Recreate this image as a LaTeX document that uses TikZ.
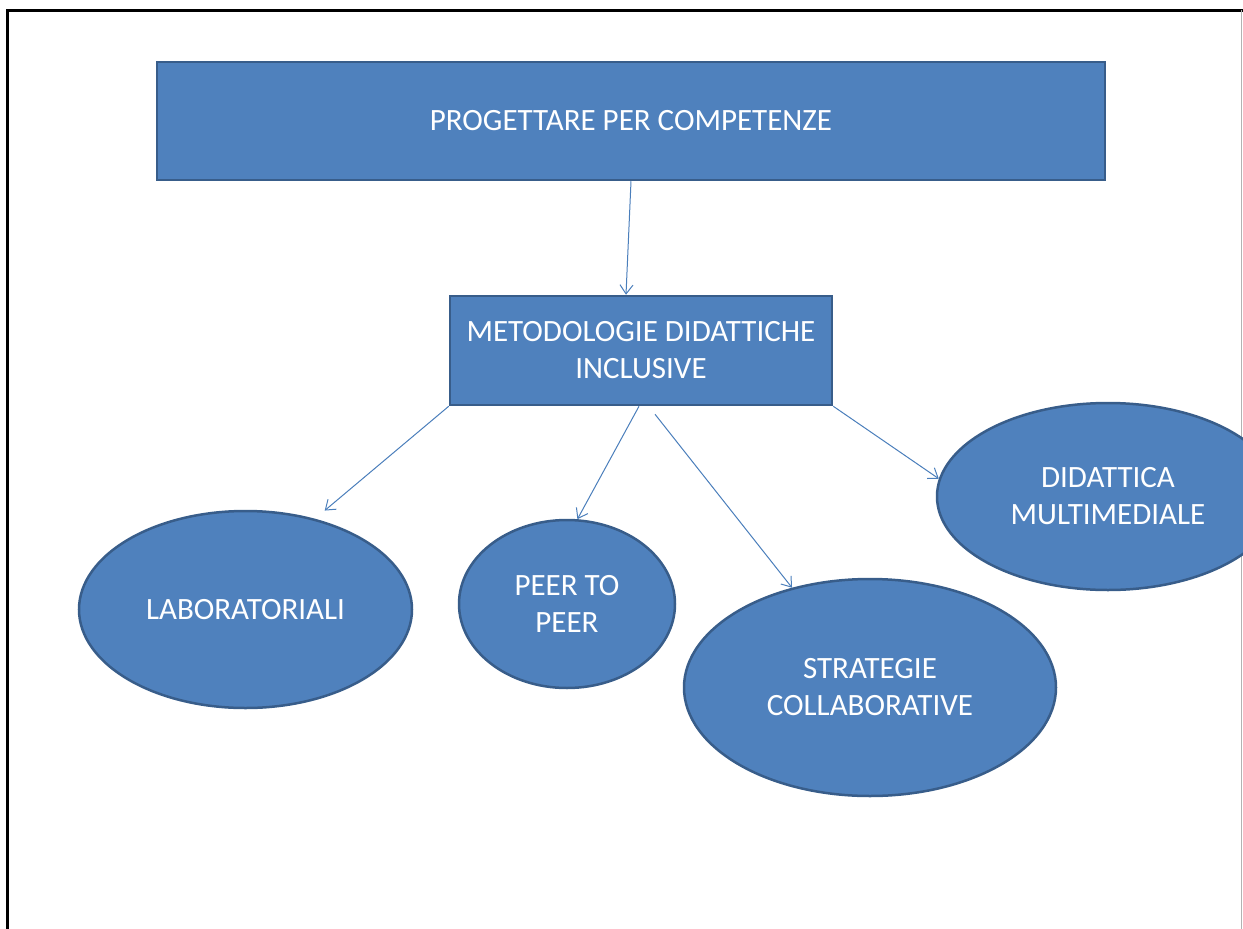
\documentclass[tikz,border=0pt]{standalone}
\usepackage{fontspec}
\setmainfont{Carlito}
\usetikzlibrary{shapes.geometric,arrows.meta}
\definecolor{boxblue}{HTML}{4F81BD}
\definecolor{boxedge}{HTML}{385D8A}
\definecolor{linkblue}{HTML}{4A7EBB}

\begin{document}
\begin{tikzpicture}[x=1pt,y=-1pt,>={Straight Barb[length=9pt,width=13pt]},
  box/.style={rectangle,draw=boxedge,line width=2.5pt,fill=boxblue,text=white,align=center,font=\fontsize{31}{37}\selectfont,inner sep=0pt},
  blob/.style={ellipse,draw=boxedge,line width=2.5pt,fill=boxblue,text=white,align=center,font=\fontsize{31}{37}\selectfont,inner sep=0pt},
  link/.style={draw=linkblue,line width=1pt,->}]
\useasboundingbox (0,0) rectangle (1243,929);
\clip (0,0) rectangle (1243,929);
\draw[line width=3pt] (7.5,929) -- (7.5,10) -- (1243,10);
\draw[gray!60,line width=1pt] (1241,10) -- (1241,929);

\node[box,minimum width=948pt,minimum height=118pt] (plan) at (631,121) {PROGETTARE PER COMPETENZE};
\node[box,minimum width=382pt,minimum height=109pt] (meto) at (641,350.5) {METODOLOGIE DIDATTICHE\\INCLUSIVE};
\node[blob,minimum width=333pt,minimum height=197pt] (lab) at (245.5,609.5) {LABORATORIALI};
\node[blob,minimum width=216pt,minimum height=168pt] (peer) at (567,604) {PEER TO\\PEER};
\node[blob,minimum width=372pt,minimum height=217pt] (strat) at (870,687.5) {STRATEGIE\\COLLABORATIVE};
\node[blob,minimum width=342pt,minimum height=187pt] (multi) at (1108,496.5) {DIDATTICA\\MULTIMEDIALE};

\draw[link] (plan.south) -- ([xshift=-15pt]meto.north);
\draw[link] (meto.south west) -- ([yshift=11pt]lab.48);
\draw[link] ([xshift=-2pt]meto.south) -- (peer.83);
\draw[link] ([xshift=14pt,yshift=-8pt]meto.south) -- (strat.128);
\draw[link] (meto.south east) -- (multi.174);
\end{tikzpicture}
\end{document}
